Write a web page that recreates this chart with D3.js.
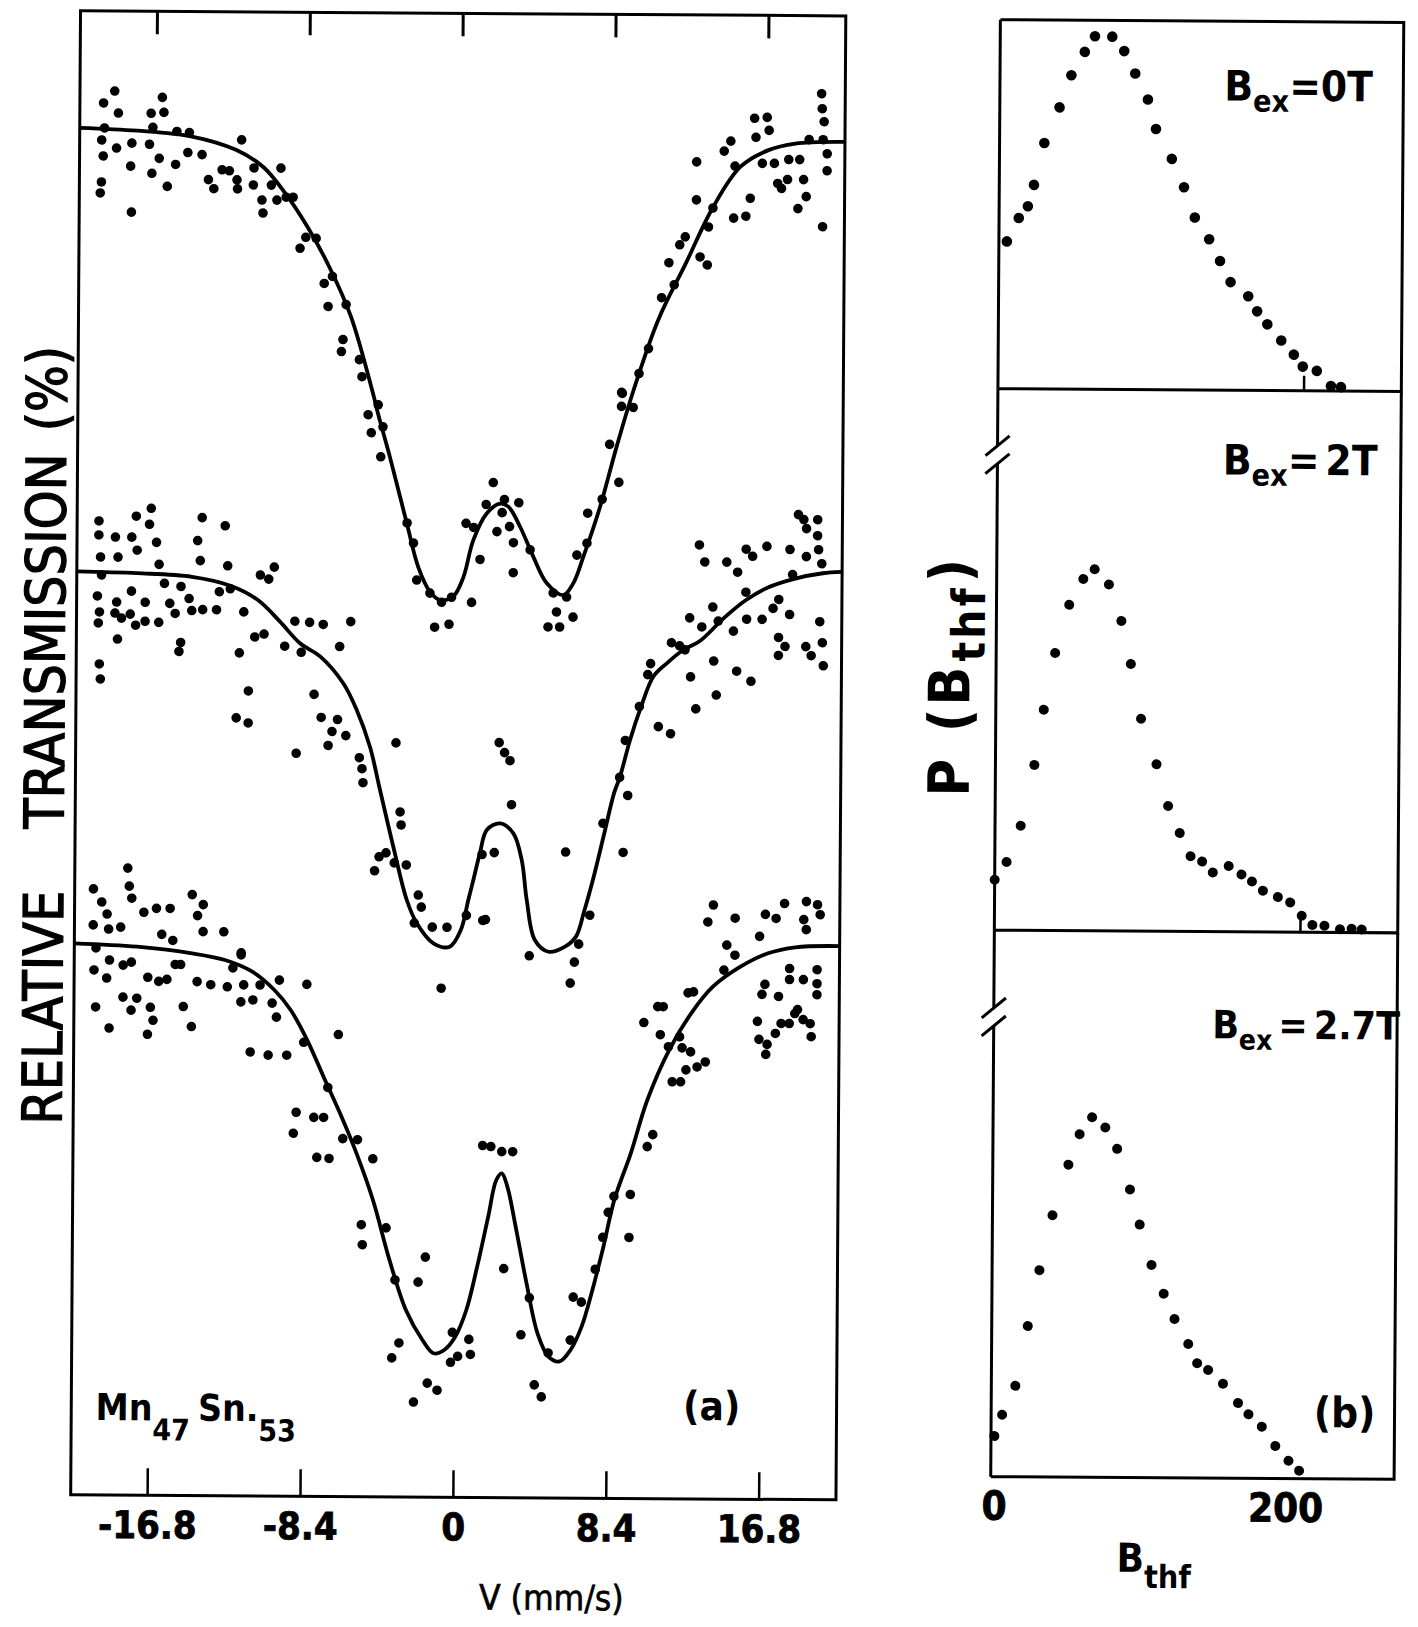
<!DOCTYPE html>
<html>
<head>
<meta charset="utf-8">
<script src="https://cdn.jsdelivr.net/npm/d3@7"></script>
<style>
  html, body { margin: 0; padding: 0; background: #fff; }
  svg { display: block; }
</style>
</head>
<body>
<script>

// ---- panel (a): Mossbauer spectra, [velocity mm/s, relative transmission (arb.)]
const velocityTicks = [-16.8, -8.4, 0, 8.4, 16.8];

const fitTop = [[-21,136.7],[-17.85,136.45],[-14.83,135.9],[-12.41,134.6],[-10.9,132.9],[-9.69,130.3],[-8.47,127.0],[-7.25,123.0],[-6.03,118.0],[-4.8,110.4],[-4.49,108.2],[-3.84,104.0],[-2.89,97.4],[-2.24,93.0],[-1.59,90.55],[-1.03,89.7],[-0.3,90.1],[0.24,92.0],[0.77,95.7],[1.5,98.4],[2.23,99.4],[2.69,99.1],[3.34,97.1],[4.08,94.1],[4.82,91.5],[5.74,90.3],[6.29,91.5],[6.82,94.1],[7.72,99.1],[8.62,105.2],[9.52,110.8],[10.86,117.9],[12.35,123.55],[13.83,129.2],[15.32,133.25],[16.82,134.9],[18.33,135.6],[21,135.8]];

const fitMid = [[-21,92.34],[-17.69,92.2],[-14.67,91.88],[-12.55,91.01],[-11.04,89.6],[-9.83,87.48],[-8.71,85.3],[-7.6,84.0],[-6.32,81.33],[-5.57,78.67],[-4.83,75.0],[-4.26,70.68],[-3.51,65.02],[-2.75,59.7],[-2.19,57.38],[-1.27,55.39],[-0.37,55.06],[0.23,56.74],[0.63,59.74],[0.9,61.75],[1.25,64.42],[1.62,66.76],[2.35,67.43],[3.08,66.44],[3.55,63.78],[3.84,59.78],[4.3,55.78],[5.05,54.62],[5.96,55.14],[6.56,56.15],[6.99,58.62],[7.47,61.84],[8.04,66.2],[8.6,70.52],[8.92,72.17],[9.46,75.85],[10.05,79.16],[10.71,82.19],[11.45,83.54],[12.35,84.88],[13.26,85.79],[14.58,88.12],[15.78,89.92],[16.98,91.19],[18.48,92.1],[19.99,92.65],[21,92.8]];

const fitBot = [[-21,55.15],[-17.55,54.85],[-14.53,54.23],[-12.72,53.58],[-11.21,52.43],[-9.99,50.61],[-9.09,48.62],[-8.17,45.63],[-7.26,41.97],[-6.34,38.32],[-5.42,34.33],[-4.5,29.68],[-3.57,23.69],[-2.65,18.7],[-1.73,15.71],[-1.12,14.39],[-0.53,14.73],[0.07,16.06],[0.67,18.74],[1.25,23.08],[1.84,28.09],[2.27,31.76],[2.57,32.43],[2.88,31.1],[3.35,27.11],[3.97,21.45],[4.59,16.46],[5.2,14.14],[5.81,13.66],[6.41,14.81],[7.01,17.15],[7.59,20.82],[8.18,25.16],[8.76,29.84],[9.65,34.52],[10.54,39.86],[11.72,44.87],[12.92,48.56],[14.1,51.23],[15.61,53.25],[17.12,54.61],[18.62,55.23],[21,55.38]];

const dataTop = [[-19.70,139.2],[-19.09,140.4],[-18.88,138.2],[-19.64,136.7],[-19.79,135.5],[-18.97,134.7],[-19.70,133.9],[-18.13,135.2],[-18.19,132.9],[-19.79,131.3],[-19.85,130.2],[-18.13,128.3],[-17.08,138.2],[-16.47,139.8],[-16.38,138.3],[-16.98,136.8],[-17.16,135.1],[-16.62,133.7],[-17.02,132.2],[-16.17,130.9],[-15.72,133.1],[-15.66,136.4],[-14.97,136.3],[-15.05,134.3],[-14.27,134.1],[-13.91,131.6],[-13.61,130.7],[-13.16,132.6],[-12.76,132.5],[-12.34,131.6],[-12.10,135.6],[-12.31,130.7],[-11.44,131.1],[-11.41,132.8],[-10.96,129.6],[-10.90,128.3],[-10.45,131.1],[-9.93,132.8],[-10.14,129.6],[-9.63,129.9],[-9.25,129.9],[-8.85,124.8],[-8.54,125.9],[-7.97,125.8],[-7.51,121.3],[-7.06,122.0],[-7.29,119.0],[-6.30,119.2],[-6.46,115.7],[-6.54,114.5],[-5.55,113.7],[-5.40,112.0],
  [12.91,133.7],[12.91,129.9],[13.82,129.1],[13.58,127.2],[13.53,123.4],[13.13,124.2],[14.42,134.8],[14.78,135.8],[15.02,133.3],[14.96,128.1],[15.63,128.3],[15.87,130.1],[16.08,138.1],[16.77,138.2],[16.16,136.2],[16.88,136.9],[16.52,133.6],[17.18,133.6],[17.37,131.6],[17.58,131.1],[17.91,132.0],[17.97,134.0],[18.57,134.0],[18.79,132.0],[18.49,129.1],[18.94,130.3],[19.08,136.0],[19.75,140.6],[19.79,139.1],[19.90,137.8],[19.85,136.0],[20.08,134.6],[20.08,132.9],[19.85,127.3],[12.31,126.2],[12.01,125.4],[11.42,123.6],[11.03,120.1],[11.72,121.4],[10.33,115.0],[9.82,112.5],[8.91,110.5],
  [-5.05,108.2],[-4.50,109.2],[-4.87,106.4],[-4.23,107.0],[-4.34,104.0],[-2.87,97.4],[-2.51,95.4],[-2.32,91.7],[-1.59,90.4],[-0.95,89.5],[-0.40,90.0],[0.70,89.5],[1.15,93.8],[0.37,97.4],[0.79,97.0],[1.47,99.3],[1.85,101.5],[2.07,96.6],[2.35,98.5],[2.47,99.8],[2.76,97.1],[2.98,95.5],[3.26,99.5],[2.98,92.5],[3.90,94.8],[5.18,90.5],[5.92,90.1],[5.37,88.6],[6.28,88.1],[4.91,87.1],[5.55,87.1],[6.47,94.3],[7.02,95.5],[7.05,98.5],[7.84,99.9],[8.75,101.6],[8.23,105.4],[8.87,109.2],[8.87,110.6],[9.51,109.1],[-1.32,87.0],[-0.53,87.3]];

const dataMid = [[-19.80,97.4],[-19.80,96.0],[-19.70,93.8],[-19.64,92.0],[-19.86,89.9],[-19.74,88.3],[-19.80,87.2],[-18.89,95.8],[-18.74,93.8],[-18.80,89.3],[-18.89,88.2],[-18.53,87.7],[-18.74,85.6],[-17.99,95.8],[-17.75,97.9],[-17.69,94.5],[-17.99,90.4],[-18.05,88.1],[-17.75,87.0],[-17.23,89.3],[-17.23,87.4],[-16.93,98.7],[-17.02,97.1],[-16.63,95.3],[-16.48,93.1],[-16.48,87.3],[-16.18,91.2],[-15.88,89.2],[-15.58,88.2],[-15.27,90.9],[-15.27,85.3],[-15.36,84.4],[-14.82,89.7],[-14.67,88.5],[-14.37,95.5],[-14.22,93.5],[-14.13,97.8],[-14.07,88.6],[-13.31,88.6],[-13.16,90.4],[-12.86,97.0],[-12.71,93.0],[-12.56,90.7],[-12.04,84.3],[-11.81,88.4],[-11.20,85.9],[-10.91,92.1],[-10.45,91.7],[-10.15,92.9],[-10.69,86.2],[-19.73,83.1],[-19.67,81.6],[-12.19,77.8],[-11.53,77.3],[-11.53,80.5],[-9.55,85.0],[-9.00,87.5],[-8.19,87.4],[-7.44,87.2],[-8.64,84.4],[-6.53,85.0],[-5.93,87.5],[-7.92,80.2],[-7.52,77.9],[-6.62,77.7],[-6.92,76.5],[-7.13,75.1],[-6.16,76.1],[-8.88,74.3],[-5.41,73.9],[-5.26,72.8],[-5.20,71.4],[-3.40,75.4],[-3.15,68.5],[-3.09,67.2],[-4.29,64.0],[-4.53,62.6],[-3.91,64.4],[-3.45,63.4],[-2.79,63.2],[-2.12,60.2],[-1.95,59.0],[-1.34,57.0],[-0.53,57.0],[-2.33,57.4],[0.53,58.2],[1.43,57.7],[1.58,57.8],[2.27,75.5],[2.57,74.5],[2.87,73.7],[2.97,69.3],[2.04,64.5],[1.37,64.3],[5.96,64.6],[7.31,58.3],[6.71,55.4],[9.12,64.6],[9.35,70.3],[8.00,67.5],[8.90,72.1],[9.20,75.8],[9.96,79.2],[10.56,83.5],[10.41,82.4],[11.01,77.2],[11.68,76.5],[11.70,85.6],[12.15,85.3],[12.45,84.9],[12.69,88.1],[12.76,82.2],[13.06,79.0],[13.20,95.4],[13.50,93.7],[13.36,87.2],[13.96,89.2],[14.03,83.8],[14.18,80.4],[14.26,87.8],[14.71,93.7],[15.10,86.8],[15.29,82.8],[15.31,92.7],[15.77,95.0],[15.77,90.7],[15.82,88.0],[16.08,81.8],[16.13,94.3],[16.67,88.0],[16.91,95.3],[17.27,89.1],[17.58,84.4],[17.58,90.0],[17.58,86.2],[17.94,85.3],[18.18,95.0],[18.18,88.5],[18.33,92.5],[18.63,98.5],[18.93,98.0],[19.08,97.1],[19.08,94.3],[19.08,85.3],[19.38,84.4],[19.69,98.0],[19.69,96.4],[19.75,95.0],[19.84,87.8],[19.99,85.7],[20.05,83.4],[19.93,93.6],[-0.83,50.9],[6.26,51.5],[4.00,54.2],[6.48,53.6]];

const dataBot = [[-19.97,60.6],[-19.51,59.3],[-19.21,58.1],[-19.12,56.6],[-19.97,57.0],[-18.09,62.7],[-18.00,60.9],[-17.86,59.7],[-17.19,58.3],[-16.50,58.7],[-15.75,58.7],[-16.20,56.1],[-15.59,55.5],[-14.54,60.1],[-13.93,59.1],[-14.24,58.0],[-13.93,56.4],[-12.79,56.4],[-11.83,54.1],[-18.46,56.8],[-19.81,54.7],[-19.06,53.5],[-17.86,53.3],[-18.31,53.0],[-19.91,52.5],[-19.21,51.7],[-16.95,51.8],[-16.35,51.4],[-15.90,51.6],[-15.45,53.1],[-15.15,53.1],[-18.31,49.8],[-17.55,49.7],[-17.86,48.5],[-16.80,48.8],[-16.65,47.5],[-16.95,46.1],[-19.06,46.7],[-19.81,48.8],[-14.99,48.9],[-14.54,46.9],[-14.24,51.4],[-13.49,51.1],[-12.58,50.9],[-11.83,54.3],[-12.28,52.8],[-11.83,49.4],[-11.17,49.6],[-11.68,51.1],[-10.78,51.1],[-10.11,49.3],[-9.87,47.9],[-9.72,51.6],[-8.21,51.2],[-11.30,44.4],[-10.31,44.1],[-9.29,44.1],[-6.46,46.2],[-8.36,45.4],[-8.75,38.4],[-8.90,36.3],[-7.78,37.9],[-7.24,37.9],[-7.60,33.9],[-6.93,33.8],[-7.02,40.9],[-6.18,35.8],[-5.37,35.7],[-4.52,33.8],[-5.13,27.2],[-5.07,25.2],[-3.77,26.9],[-1.60,24.0],[-1.99,21.5],[-3.26,21.7],[-3.02,15.4],[-3.41,13.9],[-0.18,13.5],[0.21,14.1],[0.82,15.8],[0.91,14.3],[-0.09,16.5],[-1.45,11.4],[-0.91,10.7],[-2.20,9.5],[1.51,35.2],[1.96,35.1],[2.56,34.6],[3.16,34.6],[2.71,22.9],[4.13,20.0],[3.68,16.3],[4.43,11.3],[4.82,10.1],[5.18,14.5],[6.39,15.8],[6.54,20.1],[6.99,19.6],[7.74,22.9],[8.14,26.1],[8.74,30.2],[9.64,30.4],[9.58,26.1],[8.43,28.6],[10.55,35.2],[10.85,36.4],[11.90,41.7],[12.43,45.1],[12.90,44.7],[13.26,43.2],[13.71,43.7],[12.29,46.2],[11.23,46.4],[11.08,49.2],[12.74,50.6],[13.04,50.7],[10.32,47.6],[14.10,59.4],[13.80,57.7],[15.30,58.1],[14.85,55.4],[15.30,54.4],[14.70,52.9],[16.65,56.3],[16.96,58.5],[17.55,58.1],[18.01,59.6],[19.21,59.8],[19.82,59.5],[19.07,58.0],[19.21,57.0],[19.97,58.5],[16.80,50.5],[16.96,51.5],[17.71,50.3],[18.31,52.0],[18.31,53.1],[19.07,52.0],[19.82,53.0],[19.82,51.6],[19.82,50.5],[16.56,47.8],[16.65,46.0],[17.10,45.5],[17.03,44.5],[17.55,46.6],[17.86,47.6],[18.31,47.6],[18.61,48.6],[19.07,48.0],[19.46,47.6],[19.52,46.3],[18.76,49.0],[11.38,49.2],[11.68,45.2],[12.36,41.7],[12.65,42.9]];

// ---- panel (b): hyperfine field distributions, [Bthf, P (arb.)]
const bthfTicks = [0, 200];
const fieldLabels = ['=0T', '= 2T', '= 2.7T'];

const pBex0 = [[5.2,42.1],[12.9,48.8],[18.8,52.2],[22.7,58.3],[29.3,70.3],[39.1,80.5],[46.7,89.7],[55.4,96.4],[62,100.9],[73.3,100.8],[81.2,96.7],[88.5,90.3],[96.9,82.9],[102.3,74.5],[112.8,66],[120.9,57.9],[128.1,49.3],[137.6,43.1],[144.8,36.9],[151.8,30.9],[163.4,26.9],[169.3,22.6],[176,18.9],[185.2,14.3],[193.5,10.3],[199.4,6.9],[208.6,5.7],[217.9,1.4],[224.5,1.1]];

const pBex2 = [[0,14.4],[7.7,19.5],[16.8,29.9],[25.5,47.3],[31.4,63.1],[38.6,79.3],[47.6,93.1],[56.7,100.5],[64.1,103.3],[73.5,99],[81.8,88.6],[88.2,76.3],[95.1,60.7],[105.4,47.7],[113.2,35.8],[120.9,28.1],[128.1,21.5],[135.7,20],[142.7,16.9],[153.1,18.8],[161.5,16.4],[168.4,14.4],[175.6,11.8],[185.4,10],[193.5,8.5],[201.1,4.7],[208.1,2.1],[216,1.9],[226.2,0.9],[233.8,1.1],[240.4,0.9]];

const pBex27 = [[2.2,11.6],[7.2,17.7],[15.7,26],[23.6,43.1],[31,59.1],[39.3,74.8],[49.5,89.3],[56.7,98],[64.8,102.9],[73.5,100],[81.3,93.9],[89.9,82.3],[96.4,72.3],[104.3,60.8],[112.4,52.6],[119.6,45.4],[128.7,38.3],[134.6,32.8],[141.8,30.9],[151.6,27],[161.5,21.5],[168.4,18.3],[177.2,14.8],[186.1,9.3],[194.8,5.1],[201.8,2.3]];


const FONT = "'Liberation Sans Narrow', 'DejaVu Sans Condensed', 'Liberation Sans', sans-serif";
const width = 1418;
const height = 1627;

const svg = d3.select('body')
	.append('svg')
	.attr('width', width)
	.attr('height', height);

// the scanned figure sits slightly tilted
const fig = svg.append('g')
	.attr('transform', 'rotate(0.38 709 755)')
	.attr('font-family', FONT);


// ================= panel (a) =================
const aLeft = 75.6, aRight = 840.9, aTop = 15, aBottom = 1499;

const xV = d3.scaleLinear().domain([-21, 21.05]).range([aLeft, aRight]);
const yT = d3.scaleLinear().domain([0, 148.4]).range([aBottom, aTop]);

fig.append('rect')
	.attr('x', aLeft).attr('y', aTop)
	.attr('width', aRight - aLeft).attr('height', aBottom - aTop)
	.attr('fill', 'none').attr('stroke', '#000').attr('stroke-width', 3);

fig.append('g')
	.attr('transform', 'translate(0,' + aBottom + ')')
	.call(d3.axisBottom(xV).tickValues(velocityTicks).tickSizeInner(-27).tickSizeOuter(0)
		.tickFormat(d => d === 0 ? '0' : d.toFixed(1)))
	.attr('font-family', FONT).attr('font-size', 38).attr('font-weight', 'bold')
	.call(g => g.select('.domain').remove())
	.call(g => g.selectAll('line').attr('stroke-width', 2.5))
	.call(g => g.selectAll('text').attr('dy', null).attr('y', 43)
		.attr('stroke', '#000').attr('stroke-width', 0.8));

fig.append('g')
	.attr('transform', 'translate(0,' + aTop + ')')
	.call(d3.axisTop(xV).tickValues(velocityTicks).tickSizeInner(-23).tickSizeOuter(0).tickFormat(''))
	.call(g => g.select('.domain').remove())
	.call(g => g.selectAll('line').attr('stroke-width', 3));

const fitLine = d3.line()
	.x(d => xV(d[0]))
	.y(d => yT(d[1]))
	.curve(d3.curveCatmullRom.alpha(0.5));

[fitTop, fitMid, fitBot].forEach(f => {
	fig.append('path')
		.datum(f)
		.attr('d', fitLine)
		.attr('fill', 'none')
		.attr('stroke', '#000')
		.attr('stroke-width', 3.8);
});

[dataTop, dataMid, dataBot].forEach(s => {
	fig.append('g').selectAll('circle')
		.data(s)
		.enter()
		.append('circle')
		.attr('cx', d => xV(d[0]))
		.attr('cy', d => yT(d[1]))
		.attr('r', 4.8)
		.attr('fill', '#000');
});

// axis titles and labels of (a)
const rel = fig.append('text')
	.attr('transform', 'translate(64,1129) rotate(-90)')
	.attr('font-size', 55)
	.attr('stroke', '#000').attr('stroke-width', 1.2);
rel.append('tspan').text('RELATIVE');
rel.append('tspan').attr('dx', 62).text('TRANSMISSION');
rel.append('tspan').attr('dx', 22).text('(%)');

fig.append('text')
	.attr('x', 557).attr('y', 1611)
	.attr('text-anchor', 'middle')
	.attr('font-size', 35)
	.attr('stroke', '#000').attr('stroke-width', 0.6)
	.text('V (mm/s)');

const mn = fig.append('text')
	.attr('x', 100).attr('y', 1424)
	.attr('font-size', 37).attr('font-weight', 'bold');
mn.append('tspan').text('Mn');
mn.append('tspan').attr('dy', 20).attr('font-size', 30).text('47');
mn.append('tspan').attr('dy', -20).attr('dx', 8).text('Sn.');
mn.append('tspan').attr('dy', 20).attr('font-size', 30).text('53');

fig.append('text')
	.attr('x', 716).attr('y', 1420)
	.attr('text-anchor', 'middle')
	.attr('font-size', 40).attr('font-weight', 'bold')
	.text('(a)');


// ================= panel (b) =================
const bX0 = 995.5;
const pxPerB = 1.528;
const xB = d3.scaleLinear().domain([0, 264]).range([bX0, bX0 + 264 * pxPerB]);
const bX1 = xB(264);
const pxPerP = 3.5;

const panels = [
	{ data: pBex0, top: 17.8, bottom: 386.8, label: fieldLabels[0], labelX: 1220, labelY: 97, size: 42, tick: true, r: 5.3 },
	{ data: pBex2, top: 386.8, bottom: 928.3, label: fieldLabels[1], labelX: 1221, labelY: 471, size: 42, tick: true, brk: 452.8, r: 5 },
	{ data: pBex27, top: 928.3, bottom: 1474.8, label: fieldLabels[2], labelX: 1214, labelY: 1035, size: 39, brk: 1015, r: 5 }
];

panels.forEach((p, i) => {
	const yP = d3.scaleLinear()
		.domain([0, (p.bottom - p.top) / pxPerP])
		.range([p.bottom, p.top]);

	let frame = 'M' + bX0 + ',' + p.bottom + 'H' + bX1 + 'V' + p.top;
	if (i === 0) frame += 'H' + bX0;
	if (p.brk) {
		frame += 'M' + bX0 + ',' + p.top + 'V' + (p.brk - 9) + 'M' + bX0 + ',' + (p.brk + 9) + 'V' + p.bottom;
	} else {
		frame += 'M' + bX0 + ',' + p.top + 'V' + p.bottom;
	}
	fig.append('path')
		.attr('d', frame)
		.attr('fill', 'none')
		.attr('stroke', '#000')
		.attr('stroke-width', 3);

	if (p.brk) {
		[-9, 9].forEach(o => {
			fig.append('line')
				.attr('x1', bX0 - 12).attr('y1', p.brk + o + 10)
				.attr('x2', bX0 + 12).attr('y2', p.brk + o - 10)
				.attr('stroke', '#000').attr('stroke-width', 3);
		});
	}

	if (p.tick) {
		fig.append('g')
			.attr('transform', 'translate(0,' + p.bottom + ')')
			.call(d3.axisBottom(xB).tickValues([200]).tickSizeInner(-15).tickSizeOuter(0).tickFormat(''))
			.call(g => g.select('.domain').remove())
			.call(g => g.selectAll('line').attr('stroke-width', 2.5));
	}

	fig.append('g').selectAll('circle')
		.data(p.data)
		.enter()
		.append('circle')
		.attr('cx', d => xB(d[0]))
		.attr('cy', d => yP(d[1]))
		.attr('r', p.r)
		.attr('fill', '#000');

	// "B_ex = value", words placed with tight gaps
	const lab = fig.append('text')
		.attr('x', p.labelX).attr('y', p.labelY)
		.attr('font-size', p.size).attr('font-weight', 'bold');
	lab.append('tspan').text('B');
	lab.append('tspan').attr('dy', 11).attr('font-size', p.size * 0.72).text('ex');
	p.label.split(' ').forEach((w, j) => {
		lab.append('tspan')
			.attr('dy', j === 0 ? -11 : 0)
			.attr('dx', j === 0 ? (i === 2 ? 6 : 0) : 6)
			.text(w);
	});
});

const last = panels[panels.length - 1];
fig.append('g')
	.attr('transform', 'translate(0,' + last.bottom + ')')
	.call(d3.axisBottom(xB).tickValues(bthfTicks).tickSize(0).tickFormat(d3.format('d')))
	.attr('font-family', FONT).attr('font-size', 40).attr('font-weight', 'bold')
	.call(g => g.select('.domain').remove())
	.call(g => g.selectAll('text').attr('dy', null).attr('y', 43).attr('dx', d => d === 200 ? -11 : 3)
		.attr('stroke', '#000').attr('stroke-width', 0.8));

fig.append('text')
	.attr('x', 1349).attr('y', 1423)
	.attr('text-anchor', 'middle')
	.attr('font-size', 42).attr('font-weight', 'bold')
	.text('(b)');

const bt = fig.append('text')
	.attr('x', 1122).attr('y', 1569)
	.attr('font-size', 40).attr('font-weight', 'bold');
bt.append('tspan').text('B');
bt.append('tspan').attr('dy', 16).attr('font-size', 32).text('thf');

const pl = fig.append('text')
	.attr('transform', 'translate(969,795) rotate(-90)')
	.attr('font-size', 57).attr('font-weight', 'bold')
	.attr('letter-spacing', 3);
pl.append('tspan').text('P');
pl.append('tspan').attr('dx', 24).text('(B');
pl.append('tspan').attr('dy', 15).attr('dx', 2).attr('font-size', 46).text('thf');
pl.append('tspan').attr('dy', -15).attr('dx', 3).text(')');

</script>
</body>
</html>
